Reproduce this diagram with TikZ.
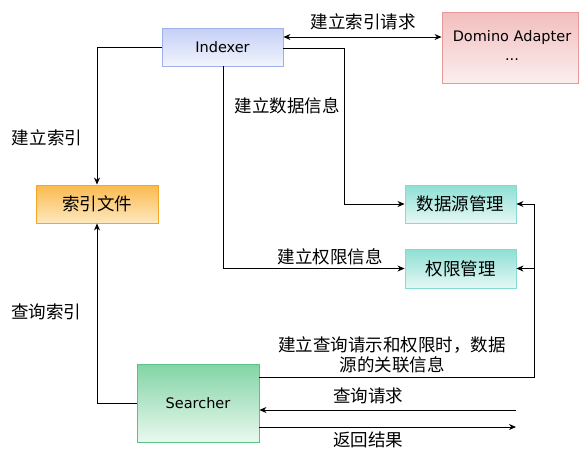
\documentclass[tikz,border=0pt]{standalone}
\usepackage{fontspec}
\setmainfont{DejaVu Sans}
\newfontfamily\cjk{Noto Sans CJK SC}
\usetikzlibrary{arrows.meta,calc}
\definecolor{idxB}{HTML}{9FB0EA}\definecolor{idxT}{HTML}{C4CFF5}\definecolor{idxBot}{HTML}{F2F5FD}
\definecolor{domB}{HTML}{E49A9A}\definecolor{domT}{HTML}{F2BEBE}\definecolor{domBot}{HTML}{FCEEEE}
\definecolor{filB}{HTML}{F5A623}\definecolor{filT}{HTML}{FBBA4E}\definecolor{filBot}{HTML}{FDE8BE}
\definecolor{mgB}{HTML}{86DCD2}\definecolor{mgT}{HTML}{8CDFD4}\definecolor{mgBot}{HTML}{E6F8F5}
\definecolor{srB}{HTML}{5CC088}\definecolor{srT}{HTML}{82D5A5}\definecolor{srBot}{HTML}{EAF8EF}
\tikzset{
  box/.style={draw, line width=0.9pt, inner sep=0pt, font=\fontsize{14.5}{17}\selectfont},
  cbox/.style={box, font=\cjk\fontsize{17.5}{20}\selectfont},
  conn/.style={line width=0.8pt, black},
  arr/.style={conn, -{Stealth[length=7pt,width=6pt]}},
  lab/.style={font=\cjk\fontsize{17.5}{19.5}\selectfont, inner sep=0pt},
}
\begin{document}
\begin{tikzpicture}[x=1pt,y=-1pt]
\useasboundingbox (0,0) rectangle (580,451);
% boxes
\node[box, draw=idxB, top color=idxT, bottom color=idxBot, minimum width=121pt, minimum height=38pt] (idx) at (222.5,47) {Indexer};
\node[box, draw=domB, top color=domT, bottom color=domBot, minimum width=136pt, minimum height=71pt] (dom) at (510,47.5) {};
\node[font=\fontsize{14.5}{17}\selectfont, inner sep=0pt] (domt) at (512,37) {Domino Adapter};
\node[font=\fontsize{14.5}{17}\selectfont, inner sep=0pt] (domd) at (512,60) {...};
\node[cbox, draw=filB, top color=filT, bottom color=filBot, minimum width=122pt, minimum height=38pt] (fil) at (97,204) {索引文件};
\node[cbox, draw=mgB, top color=mgT, bottom color=mgBot, minimum width=111pt, minimum height=38pt] (dsm) at (460.5,204) {数据源管理};
\node[cbox, draw=mgB, top color=mgT, bottom color=mgBot, minimum width=111pt, minimum height=39pt] (qxm) at (460.5,268.5) {权限管理};
\node[box, draw=srB, top color=srT, bottom color=srBot, minimum width=122pt, minimum height=78pt] (sr) at (198,403) {Searcher};
% coordinates
\coordinate (rt) at (534,204);
\coordinate (rb) at (534,377);
\coordinate (qin) at (516,410);
\coordinate (qout) at (516,427);
% connectors
\draw[conn, {Stealth[length=7pt,width=6pt]}-{Stealth[length=7pt,width=6pt]}] (idx.east |- 0,37) -- (dom.west |- 0,37);
\draw[arr] (idx.west) -| (fil.north);
\draw[arr] (idx.east |- 0,48) -| (344,204) -- (dsm.west);
\draw[arr] (223,66) |- (qxm.west |- 0,268.5);
\draw[arr] (sr.west) -| (fil.south);
\draw[conn] (sr.east |- rb) -- (rb) -- (rt);
\draw[arr] (rt) -- (dsm.east);
\draw[arr] (534,268.5) -- (qxm.east);
\draw[arr] (qin) -- (sr.east |- qin);
\draw[arr] (sr.east |- qout) -- (qout);
% labels
\node[lab] (l1) at (363,22) {建立索引请求};
\node[lab] (l2) at (47,138) {建立索引};
\node[lab] (l3) at (287,106) {建立数据信息};
\node[lab] (l4) at (330,257) {建立权限信息};
\node[lab] (l5) at (46,312) {查询索引};
\node[lab, align=center] (l6) at (392,355) {建立查询请示和权限时，数据\\源的关联信息};
\node[lab] (l7) at (368,396) {查询请求};
\node[lab] (l8) at (368,440) {返回结果};
\end{tikzpicture}
\end{document}
